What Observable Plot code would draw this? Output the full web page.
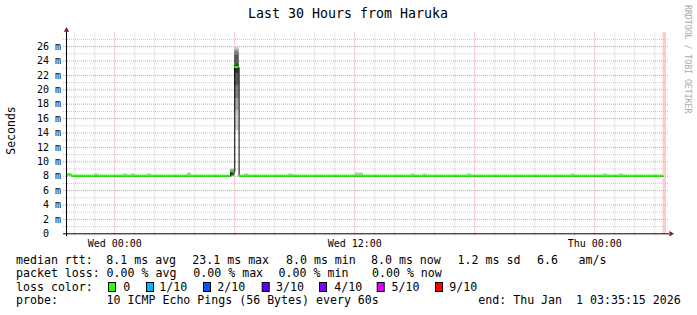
<!DOCTYPE html>
<html><head><meta charset="utf-8">
<script src="https://cdn.jsdelivr.net/npm/d3@7"></script>
<script src="https://cdn.jsdelivr.net/npm/@observablehq/plot@0.6"></script>
<style>
html,body{margin:0;padding:0;background:#fff;}
#wrap{position:relative;width:697px;height:315px;overflow:hidden;background:#fff;}
#wrap svg{position:absolute;left:0;top:0;}
</style></head><body><div id="wrap"></div>
<script>
// ---------- data ----------
const title = "Last 30 Hours from Haruka";
const yAxisLabel = "Seconds";
const watermark = "RRDTOOL / TOBI OETIKER";
const timeStart = "2025-12-30T21:35:15Z";
const timeEnd = "2026-01-01T03:35:15Z";

// median rtt (ms) per interval
const medianStarts = ["2025-12-30T21:35:15Z","2025-12-30T21:50:00Z","2025-12-31T05:48:00Z","2025-12-31T06:00:00Z","2025-12-31T06:13:00Z"];
const medianEnds   = ["2025-12-30T21:50:00Z","2025-12-31T05:48:00Z","2025-12-31T06:00:00Z","2025-12-31T06:13:00Z","2026-01-01T03:25:00Z"];
const medianValues = [8.2, 8.0, 8.6, 23.1, 8.0];
const medianLoss   = [0, 0, 0, 0, 0];   // index into lossColors

// smoke: the 10 sorted ping times of notable intervals
const smokeStarts = ["2025-12-31T05:48:00Z","2025-12-31T06:00:00Z"];
const smokeEnds   = ["2025-12-31T06:00:00Z","2025-12-31T06:13:00Z"];
const smokePings  = [
  [7.9, 8.0, 8.0, 8.1, 8.3, 8.6, 8.7, 8.8, 8.9, 9.0],
  [14.3, 17.1, 18.8, 20.6, 22.3, 23.4, 24.8, 25.3, 25.6, 25.9]
];
// small smoke bumps above the baseline (slowest ping of the interval)
const bumpStarts = ["2025-12-30T23:00:00Z","2025-12-31T00:26:00Z","2025-12-31T00:50:00Z","2025-12-31T01:38:00Z","2025-12-31T03:38:00Z","2025-12-31T06:30:00Z","2025-12-31T08:42:00Z","2025-12-31T12:02:00Z","2025-12-31T14:50:00Z","2025-12-31T15:26:00Z","2025-12-31T17:38:00Z","2025-12-31T22:50:00Z","2026-01-01T00:26:00Z","2026-01-01T01:14:00Z"];
const bumpEnds   = ["2025-12-30T23:12:00Z","2025-12-31T00:38:00Z","2025-12-31T01:02:00Z","2025-12-31T01:50:00Z","2025-12-31T03:50:00Z","2025-12-31T06:42:00Z","2025-12-31T08:54:00Z","2025-12-31T12:26:00Z","2025-12-31T15:00:00Z","2025-12-31T15:36:00Z","2025-12-31T17:50:00Z","2025-12-31T23:00:00Z","2026-01-01T00:38:00Z","2026-01-01T01:26:00Z"];
const bumpTops   = [8.3, 8.3, 8.3, 8.3, 8.45, 8.3, 8.3, 8.45, 8.3, 8.3, 8.3, 8.3, 8.3, 8.3];
const bumpBase   = 8.0;

// unknown (no data yet) stretch at the right
const unknownStart = "2026-01-01T03:25:00Z";

// axes
const yTickValues = [0, 2, 4, 6, 8, 10, 12, 14, 16, 18, 20, 22, 24, 26];
const yTickLabels = ["0", "2 m", "4 m", "6 m", "8 m", "10 m", "12 m", "14 m", "16 m", "18 m", "20 m", "22 m", "24 m", "26 m"];
const yMax = 28;
const xLabelTimes = ["2025-12-31T00:00:00Z", "2025-12-31T12:00:00Z", "2026-01-01T00:00:00Z"];
const xLabels = ["Wed 00:00", "Wed 12:00", "Thu 00:00"];

// legend
const rowLabels = ["median rtt:", "packet loss:", "loss color:", "probe:"];
const rttStats = ["8.1 ms avg", "23.1 ms max", "8.0 ms min", "8.0 ms now", "1.2 ms sd", "6.6", "am/s"];
const lossStats = ["0.00 % avg", "0.00 % max", "0.00 % min", "0.00 % now"];
const lossLabels = ["0", "1/10", "2/10", "3/10", "4/10", "5/10", "9/10"];
const lossColors = ["#26ff00", "#00b8ff", "#0059ff", "#5e00ff", "#7e00ff", "#dd00ff", "#ff0000"];
const probeText = "10 ICMP Echo Pings (56 Bytes) every 60s";
const endText = "end: Thu Jan  1 03:35:15 2026";

// ---------- build ----------
const D = s => new Date(s);
const x0 = D(timeStart), x1 = D(timeEnd);
const hours = d3.utcHour.range(x0, x1);
const majorHours = hours.filter(d => d.getUTCHours() % 6 === 0);
const minorHours = hours.filter(d => d.getUTCHours() % 6 !== 0);
const yMajor = d3.range(2, yMax, 2);
const yMinor = d3.range(1, yMax, 2);

const greys = ["#cacaca", "#a4a4a4", "#7e7e7e", "#585858", "#323232"];
const smokeBands = [];
smokeStarts.forEach((s, i) => {
  const p = smokePings[i];
  for (let b = 0; b < 5; b++) smokeBands.push({x1: D(s), x2: D(smokeEnds[i]), y1: p[b], y2: p[9 - b], fill: greys[b]});
});
const bumps = bumpStarts.map((s, i) => ({x1: D(s), x2: D(bumpEnds[i]), y1: bumpBase, y2: bumpTops[i]}));
const segs = medianStarts.map((s, i) => ({x1: D(s), x2: D(medianEnds[i]), v: medianValues[i], c: lossColors[medianLoss[i]]}));
const stepPts = segs.map(d => ({t: d.x1, v: d.v})).concat([{t: segs[segs.length - 1].x2, v: segs[segs.length - 1].v}]);
const half = 0.15;

const minorC = "#c9c9c9", majorC = "#e89a9a", arrowC = "#8c1c1c";
const mono = "DejaVu Sans Mono";

const chart = Plot.plot({
  width: 697, height: 315,
  marginLeft: 66, marginRight: 31, marginTop: 31.7, marginBottom: 81.7,
  style: {background: "transparent", fontFamily: mono, fontSize: "10px", color: "#000", overflow: "visible"},
  x: {type: "utc", domain: [x0, x1], axis: null},
  y: {domain: [0, yMax], axis: null},
  marks: [
    Plot.rect([{x1: D(unknownStart), x2: x1}], {x1: "x1", x2: "x2", y1: 0, y2: yMax, fill: "#ffcccc"}),
    Plot.ruleY(yMinor, {stroke: minorC, strokeDasharray: "1,1", insetLeft: -3, insetRight: -3}),
    Plot.ruleX(minorHours, {stroke: minorC, strokeDasharray: "1,1", insetBottom: -3}),
    Plot.ruleY(yMajor, {stroke: majorC, strokeDasharray: "1,1", insetLeft: -3, insetRight: -3}),
    Plot.ruleX(majorHours, {stroke: majorC, strokeDasharray: "1,1", insetBottom: -3}),
    Plot.rect(bumps, {x1: "x1", x2: "x2", y1: "y1", y2: "y2", fill: "#c4c4c4"}),
    Plot.rect(smokeBands, {x1: "x1", x2: "x2", y1: "y1", y2: "y2", fill: "fill"}),
    Plot.line(stepPts, {x: "t", y: "v", curve: "step-after", stroke: "#000", strokeWidth: 1}),
    Plot.rect(segs, {x1: "x1", x2: "x2", y1: d => d.v - half, y2: d => d.v + half, fill: "c"}),
    Plot.ruleY([0], {stroke: "#000", insetLeft: -3, insetRight: -3}),
    Plot.ruleX([x0], {stroke: "#000", insetBottom: -3, insetTop: -3}),
    Plot.dot([x1], {x: d => d, y: () => 0, symbol: "triangle", r: 2, fill: arrowC, stroke: null, rotate: 90, dx: 4.4}),
    Plot.dot([x0], {x: d => d, y: () => yMax, symbol: "triangle", r: 2, fill: arrowC, stroke: null, dy: -2.1}),
    Plot.text(yTickValues, {x: () => x0, y: d => d, text: (d, i) => yTickLabels[i].includes(" ") ? yTickLabels[i] : yTickLabels[i] + "\u00a0\u00a0", textAnchor: "end", dx: -5.5, fontFamily: mono, fontSize: 10, fill: "#000"}),
    Plot.text(xLabelTimes, {x: d => D(d), y: () => 0, text: (d, i) => xLabels[i], textAnchor: "middle", dy: 9.5, fontFamily: mono, fontSize: 10, fill: "#000"})
  ]
});
document.getElementById("wrap").appendChild(chart);

// ---------- title, side texts, legend ----------
const ov = d3.select("#wrap").append("svg").attr("width", 697).attr("height", 315)
  .style("font-family", '"DejaVu Sans Mono", monospace').style("pointer-events", "none");
ov.append("text").attr("x", 348).attr("y", 18.3).attr("text-anchor", "middle").attr("font-size", 13.3).attr("fill", "#000").text(title);
ov.append("text").attr("transform", "translate(15.3,130.5) rotate(-90)").attr("text-anchor", "middle").attr("font-size", 11.5).attr("fill", "#000").text(yAxisLabel);
ov.append("text").attr("transform", "translate(685,5) rotate(90)").attr("font-size", 8.2).attr("fill", "#aaaaaa").text(watermark);

const fs = 11.6;
const rowY = [263.5, 277, 290.5, 304.3];
function put(x, y, s) {
  ov.append("text").attr("x", x).attr("y", y).attr("font-size", fs).attr("fill", "#000")
    .style("white-space", "pre").attr("xml:space", "preserve").text(s);
}
rowLabels.forEach((s, i) => put(16, rowY[i], s));
const rttX = [106.3, 192.3, 286, 371, 457.6, 537, 578.6];
rttStats.forEach((s, i) => put(rttX[i], rowY[0], s));
const lossX = [106.6, 193.3, 278.6, 372];
lossStats.forEach((s, i) => put(lossX[i], rowY[1], s));
const boxX = [108, 146, 203, 261.7, 319, 376.7, 435];
const boxLabelX = [123.3, 159.3, 217.3, 276, 334.3, 391.6, 449.3];
lossLabels.forEach((s, i) => {
  ov.append("rect").attr("x", boxX[i] + 0.5).attr("y", 282.5).attr("width", 7).attr("height", 9)
    .attr("fill", lossColors[i]).attr("stroke", "#000").attr("stroke-width", 1);
  put(boxLabelX[i], rowY[2], s);
});
put(106.6, rowY[3], probeText);
put(478.3, rowY[3], endText);
</script></body></html>
